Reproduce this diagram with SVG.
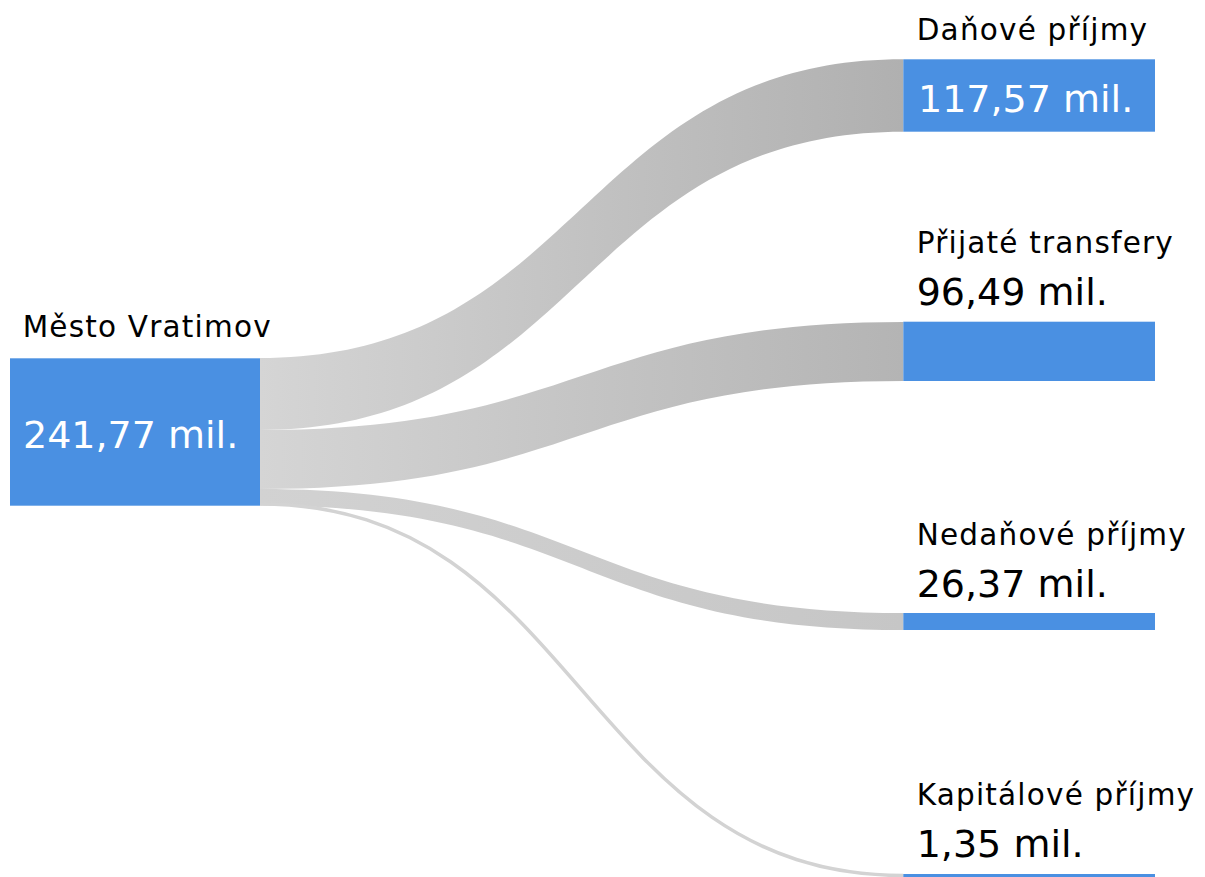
<svg xmlns="http://www.w3.org/2000/svg" width="1205" height="877" viewBox="0 0 1205 877">
<defs>
<linearGradient id="g1" x1="0" x2="1" y1="0" y2="0"><stop offset="0" stop-color="#d5d5d5"/><stop offset="1" stop-color="#b0b0b0"/></linearGradient>
<linearGradient id="g2" x1="0" x2="1" y1="0" y2="0"><stop offset="0" stop-color="#d5d5d5"/><stop offset="1" stop-color="#b4b4b4"/></linearGradient>
<linearGradient id="g3" x1="0" x2="1" y1="0" y2="0"><stop offset="0" stop-color="#d2d2d2"/><stop offset="1" stop-color="#c6c6c6"/></linearGradient>
<style>
.node{fill:#4a90e2}
.lbl{font-family:"DejaVu Sans",Verdana,sans-serif;font-size:29.5px;letter-spacing:1.2px;fill:#000}
.val{font-family:"DejaVu Sans",Verdana,sans-serif;font-size:38px;fill:#000}
.valw{font-family:"DejaVu Sans",Verdana,sans-serif;font-size:38px;fill:#fff}
</style>
</defs>
<rect width="1205" height="877" fill="#fff"/>
<g id="links">
<path d="M260,358 C581.5,358 581.5,59.3 903.3,59.3 L903.3,131.7 C581.5,131.7 581.5,430 260,430 Z" fill="url(#g1)"/>
<path d="M260,430 C581.5,430 581.5,322 903.3,322 L903.3,381 C581.5,381 581.5,489 260,489 Z" fill="url(#g2)"/>
<path d="M260,489 C581.5,489 581.5,613 903.3,613 L903.3,630 C581.5,630 581.5,505.5 260,505.5 Z" fill="url(#g3)"/>
<path d="M260,504 C581.5,504 581.5,875.5 903.3,875.5" fill="none" stroke="#d3d3d3" stroke-width="3.5"/>
</g>
<g id="node-mesto">
<rect class="node" x="10" y="358.3" width="250" height="147.4"/>
<text class="lbl" x="22.7" y="337">Město Vratimov</text>
<text class="valw" x="23" y="448.3">241,77 mil.</text>
</g>
<g id="node-danove">
<rect class="node" x="903.3" y="59.3" width="251.7" height="72.4"/>
<text class="lbl" x="916.7" y="39.5">Daňové příjmy</text>
<text class="valw" x="918" y="111.7">117,57 mil.</text>
</g>
<g id="node-prijate">
<rect class="node" x="903.3" y="321.7" width="251.7" height="59.3"/>
<text class="lbl" x="916.7" y="253">Přijaté transfery</text>
<text class="val" x="916.7" y="305">96,49 mil.</text>
</g>
<g id="node-nedanove">
<rect class="node" x="903.3" y="613" width="251.7" height="17"/>
<text class="lbl" x="916.7" y="545">Nedaňové příjmy</text>
<text class="val" x="916.7" y="596.7">26,37 mil.</text>
</g>
<g id="node-kapitalove">
<rect class="node" x="903.3" y="874" width="251.7" height="4"/>
<text class="lbl" x="916.7" y="805">Kapitálové příjmy</text>
<text class="val" x="916.7" y="857">1,35 mil.</text>
</g>
</svg>
